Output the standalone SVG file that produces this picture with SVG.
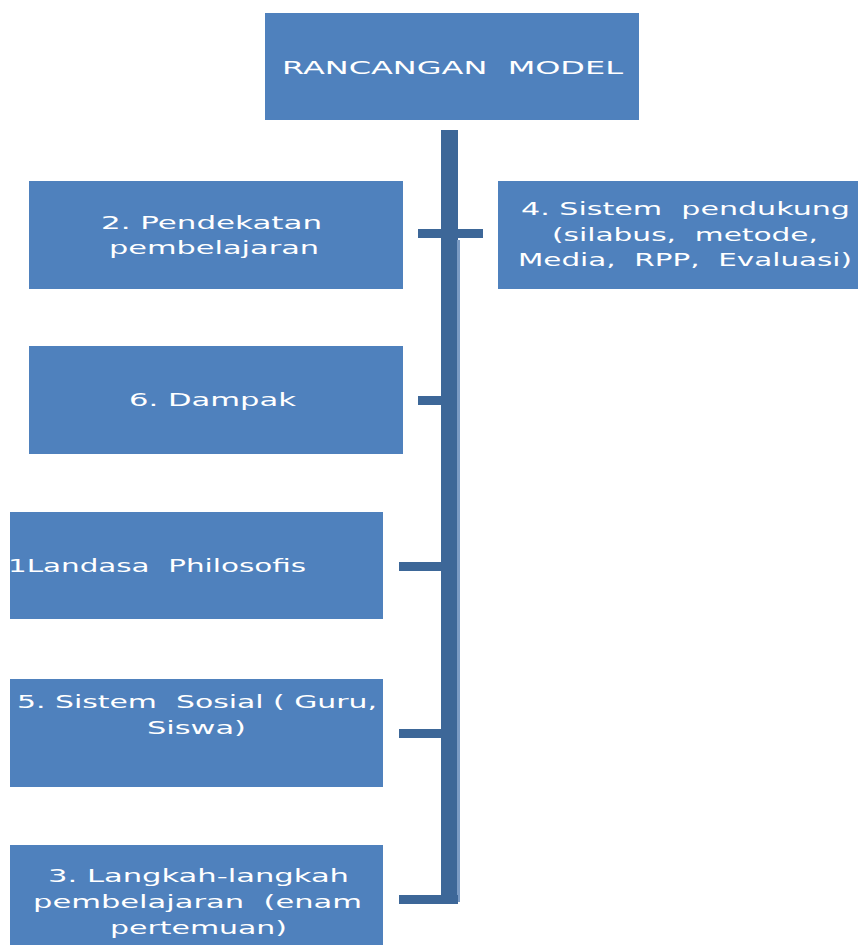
<svg xmlns="http://www.w3.org/2000/svg" width="858" height="945" viewBox="0 0 858 945">
<style>
.box{fill:#4F81BD}
.t{font-family:"DejaVu Sans","Liberation Sans",sans-serif;font-size:18px;fill:#FFFFFF}
.c{fill:#3D6798}
.e{fill:#7B9BC4}
</style>
<rect width="858" height="945" fill="#FFFFFF"/>
<g id="connectors">
<rect class="c" x="441" y="130" width="17" height="774"/>
<rect class="e" x="457" y="240" width="3" height="662"/>
<rect class="c" x="418" y="229" width="65" height="9"/>
<rect class="c" x="418" y="396" width="30" height="9"/>
<rect class="c" x="399" y="562" width="50" height="9"/>
<rect class="c" x="399" y="729" width="50" height="9"/>
<rect class="c" x="399" y="895" width="59" height="9"/>
</g>
<g id="node-rancangan">
<rect class="box" x="265" y="13" width="374" height="107"/>
<text class="t" x="282" y="74" textLength="341" lengthAdjust="spacingAndGlyphs" xml:space="preserve">RANCANGAN  MODEL</text>
</g>
<g id="node-2">
<rect class="box" x="29" y="181" width="374" height="108"/>
<text class="t" x="101" y="229" textLength="221" lengthAdjust="spacingAndGlyphs">2. Pendekatan</text>
<text class="t" x="109" y="254" textLength="210" lengthAdjust="spacingAndGlyphs">pembelajaran</text>
</g>
<g id="node-4">
<rect class="box" x="498" y="181" width="360" height="108"/>
<text class="t" x="521" y="215" textLength="329" lengthAdjust="spacingAndGlyphs" xml:space="preserve">4. Sistem  pendukung</text>
<text class="t" x="552" y="241" textLength="266" lengthAdjust="spacingAndGlyphs" xml:space="preserve">(silabus,  metode,</text>
<text class="t" x="518" y="266" textLength="334" lengthAdjust="spacingAndGlyphs" xml:space="preserve">Media,  RPP,  Evaluasi)</text>
</g>
<g id="node-6">
<rect class="box" x="29" y="346" width="374" height="108"/>
<text class="t" x="129" y="406" textLength="167" lengthAdjust="spacingAndGlyphs">6. Dampak</text>
</g>
<g id="node-1">
<rect class="box" x="10" y="512" width="373" height="107"/>
<text class="t" x="8" y="572" textLength="298" lengthAdjust="spacingAndGlyphs" xml:space="preserve">1Landasa  Philosofis</text>
</g>
<g id="node-5">
<rect class="box" x="10" y="679" width="373" height="108"/>
<text class="t" x="17" y="708" textLength="360" lengthAdjust="spacingAndGlyphs" xml:space="preserve">5. Sistem  Sosial ( Guru,</text>
<text class="t" x="147" y="734" textLength="99" lengthAdjust="spacingAndGlyphs">Siswa)</text>
</g>
<g id="node-3">
<rect class="box" x="10" y="845" width="373" height="100"/>
<text class="t" x="48" y="882" textLength="301" lengthAdjust="spacingAndGlyphs">3. Langkah-langkah</text>
<text class="t" x="33" y="908" textLength="329" lengthAdjust="spacingAndGlyphs" xml:space="preserve">pembelajaran  (enam</text>
<text class="t" x="110" y="934" textLength="177" lengthAdjust="spacingAndGlyphs">pertemuan)</text>
</g>
</svg>
